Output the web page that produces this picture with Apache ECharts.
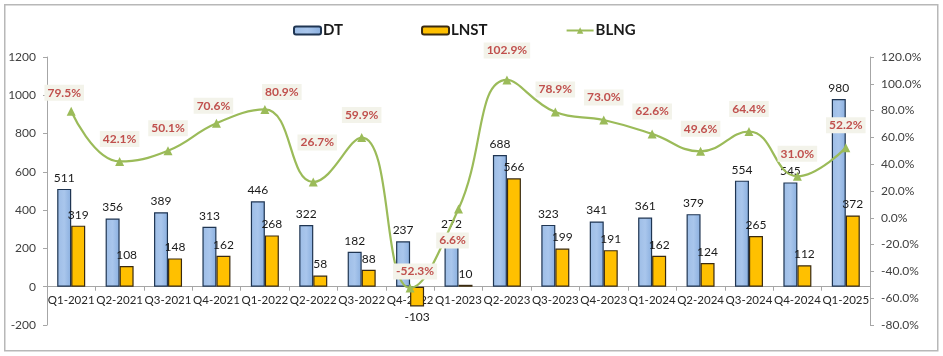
<!DOCTYPE html>
<html>
<head>
<meta charset="utf-8">
<script src="https://cdn.jsdelivr.net/npm/echarts@6/dist/echarts.min.js"></script>
<style>
html,body{margin:0;padding:0;background:#fff;}
#chart{width:943px;height:356px;}
</style>
</head>
<body>
<div id="chart"></div>
<script>
const categories = ['Q1-2021','Q2-2021','Q3-2021','Q4-2021','Q1-2022','Q2-2022','Q3-2022','Q4-2022','Q1-2023','Q2-2023','Q3-2023','Q4-2023','Q1-2024','Q2-2024','Q3-2024','Q4-2024','Q1-2025'];
const dtValues   = [511, 356, 389, 313, 446, 322, 182, 237, 272, 688, 323, 341, 361, 379, 554, 545, 980];
const lnstValues = [319, 108, 148, 162, 268, 58, 88, -103, 10, 566, 199, 191, 162, 124, 265, 112, 372];
const blngValues = [79.5, 42.1, 50.1, 70.6, 80.9, 26.7, 59.9, -52.3, 6.6, 102.9, 78.9, 73.0, 62.6, 49.6, 64.4, 31.0, 52.2];
const seriesNames = ['DT', 'LNST', 'BLNG'];

// label nudges for the line labels (styling, keyed by index)
const lineLabelNudge = {0:[-7,4], 3:[-3,5], 4:[17,5], 5:[4,-17], 7:[5,6], 8:[-6,54], 9:[0,-7]};

const FONT = 'Lato, "Liberation Sans", sans-serif';
const chart = echarts.init(document.getElementById('chart'), null, {renderer:'canvas'});

const GRID_TOP = 57, GRID_BOTTOM = 31, H = 356;
const LMIN = -200, LMAX = 1200;
const plotH = H - GRID_TOP - GRID_BOTTOM;
const zeroShift = plotH * (0 - LMIN) / (LMAX - LMIN);

const blueGrad = new echarts.graphic.LinearGradient(0,0,1,0,[
  {offset:0, color:'#9dbde6'},
  {offset:0.5, color:'#a9c6ec'},
  {offset:1, color:'#8aafdf'}
]);

const option = {
  animation:false,
  backgroundColor:'#ffffff',
  textStyle:{fontFamily:FONT},
  graphic:[{
    type:'rect', left:4, top:4, z:-10,
    shape:{x:0,y:0,width:933,height:346},
    style:{fill:'#ffffff', stroke:'#b8b8b8', lineWidth:1.5}
  }],
  legend:{
    data:seriesNames,
    left:288, top:18,
    itemWidth:27, itemHeight:8, itemGap:78,
    textStyle:{fontFamily:FONT, fontSize:15, fontWeight:'bold', color:'#1a1a1a', padding:[0,0,0,-3]}
  },
  grid:{left:47, right:73, top:GRID_TOP, bottom:GRID_BOTTOM, containLabel:false},
  xAxis:{
    type:'category',
    data:categories,
    position:'bottom',
    offset:-zeroShift,
    boundaryGap:true,
    axisLine:{onZero:false, lineStyle:{color:'#a6a6a6', width:1}},
    axisTick:{show:true, alignWithLabel:false, length:4, lineStyle:{color:'#a6a6a6'}},
    axisLabel:{interval:0, fontFamily:FONT, fontSize:11.5, color:'#262626', margin:8, hideOverlap:false}
  },
  yAxis:[{
    type:'value', min:LMIN, max:LMAX, interval:200,
    splitLine:{show:false},
    axisLine:{show:true, lineStyle:{color:'#a6a6a6'}},
    axisTick:{show:true, length:4, lineStyle:{color:'#a6a6a6'}},
    axisLabel:{fontFamily:FONT, fontSize:12, color:'#404040', margin:11, formatter:v => String(v)}
  },{
    type:'value', min:-80, max:120, interval:20,
    splitLine:{show:false},
    axisLine:{show:true, lineStyle:{color:'#a6a6a6'}},
    axisTick:{show:true, length:4, lineStyle:{color:'#a6a6a6'}},
    axisLabel:{fontFamily:FONT, fontSize:12, color:'#404040', margin:11,
      formatter:v => v.toFixed(1) + '%'}
  }],
  series:[{
    name:seriesNames[0], type:'bar', yAxisIndex:0,
    data:dtValues,
    barWidth:14, barGap:'0%',
    itemStyle:{color:blueGrad, borderColor:'#1f3552', borderWidth:1.2},
    label:{show:true, position:'top', distance:5, fontFamily:FONT, fontSize:12, color:'#1a1a1a'},
    z:2
  },{
    name:seriesNames[1], type:'bar', yAxisIndex:0,
    data:lnstValues.map(v => v < 0 ? {value:v, label:{position:'bottom'}} : v),
    barWidth:14, barGap:'0%',
    itemStyle:{color:'#ffc000', borderColor:'#3a2a10', borderWidth:1.2},
    label:{show:true, position:'top', distance:5, fontFamily:FONT, fontSize:12, color:'#1a1a1a'},
    z:2
  },{
    name:seriesNames[2], type:'line', yAxisIndex:1,
    data:blngValues.map((v,i) => lineLabelNudge[i] ? {value:v, label:{offset:lineLabelNudge[i]}} : v),
    smooth:0.45,
    symbol:'triangle', symbolSize:9,
    lineStyle:{color:'#9bbb59', width:2.2},
    itemStyle:{color:'#9bbb59'},
    label:{show:true, position:'top', distance:10, fontFamily:FONT, fontSize:12, fontWeight:'bold',
      color:'#c0504d', backgroundColor:'#f3f3ea', padding:[2,3],
      formatter:p => p.value.toFixed(1) + '%'},
    z:5
  }]
};
chart.setOption(option);
</script>
</body>
</html>
